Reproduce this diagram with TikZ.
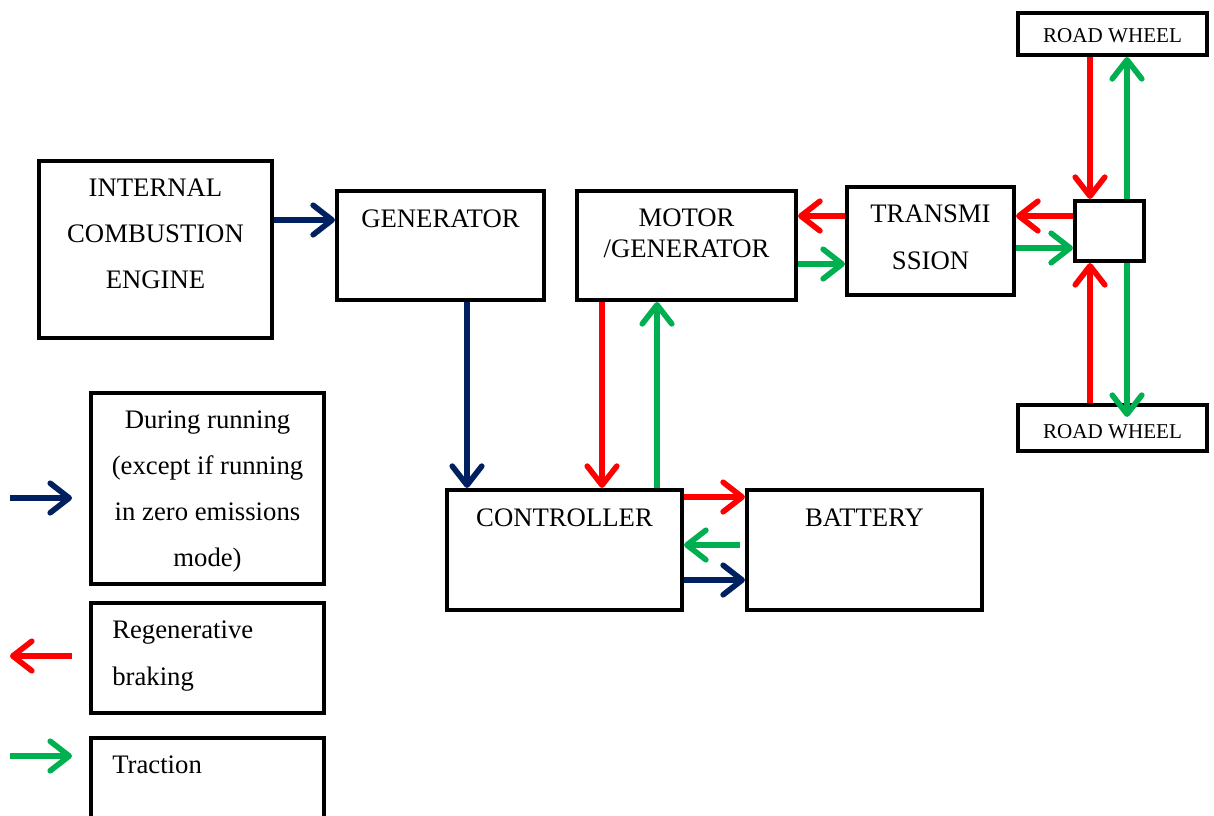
\documentclass[tikz,border=0pt]{standalone}
\usepackage{fontspec}
\setmainfont{Liberation Serif}
\usetikzlibrary{arrows.meta}

\definecolor{runblue}{RGB}{0,32,96}
\definecolor{regenred}{RGB}{255,0,0}
\definecolor{tractgreen}{RGB}{0,176,80}

\begin{document}
\begin{tikzpicture}[x=0.025cm, y=-0.025cm,
    box/.style={draw, line width=2.9pt, inner sep=0pt},
    boxtext/.style={font=\fontsize{19}{23}\selectfont, inner sep=0pt, anchor=base},
    wheeltext/.style={font=\fontsize{15}{18}\selectfont, inner sep=0pt, anchor=base},
    flow/.style={line width=4pt, -{Straight Barb[length=13.5pt, width=21pt, line cap=round, line join=round]}}]

    \useasboundingbox (0,0) rectangle (1214,815);

    % Draw blocks
    \node [box, minimum width=5.825cm, minimum height=4.425cm] (ice) at (155.5,249.5) {};
    \node [box, minimum width=5.175cm, minimum height=2.725cm] (gen) at (440.5,245.5) {};
    \node [box, minimum width=5.475cm, minimum height=2.725cm] (mg) at (686.5,245.5) {};
    \node [box, minimum width=4.175cm, minimum height=2.7cm] (trans) at (930.5,241) {};
    \node [box, minimum width=1.725cm, minimum height=1.5cm] (hub) at (1109.5,231) {};
    \node [box, minimum width=4.725cm, minimum height=1.05cm] (wheelA) at (1112.5,34) {};
    \node [box, minimum width=4.725cm, minimum height=1.15cm] (wheelB) at (1112.5,428) {};
    \node [box, minimum width=5.875cm, minimum height=3cm] (ctrl) at (564.5,550) {};
    \node [box, minimum width=5.875cm, minimum height=3cm] (batt) at (864.5,550) {};

    % Draw block texts
    \node [boxtext] (iceA) at (155.5,196) {INTERNAL};
    \node [boxtext] (iceB) at (155.5,242) {COMBUSTION};
    \node [boxtext] (iceC) at (155.5,288) {ENGINE};
    \node [boxtext] (genA) at (440.5,227) {GENERATOR};
    \node [boxtext] (mgA) at (686.5,226) {MOTOR};
    \node [boxtext] (mgB) at (686.5,257) {/GENERATOR};
    \node [boxtext] (transA) at (930.5,222) {TRANSMI};
    \node [boxtext] (transB) at (930.5,269) {SSION};
    \node [boxtext] (ctrlA) at (564.5,526) {CONTROLLER};
    \node [boxtext] (battA) at (864.5,526) {BATTERY};
    \node [wheeltext] (wheelAt) at (1112.5,42) {ROAD WHEEL};
    \node [wheeltext] (wheelBt) at (1112.5,438) {ROAD WHEEL};

    % Draw flows
    \draw [flow, runblue] (ice.east |- 0,220) -- (gen.west |- 0,220);
    \draw [flow, runblue] (gen.south -| 467,0) -- (ctrl.north -| 467,0);
    \draw [flow, regenred] (mg.south -| 602,0) -- (ctrl.north -| 602,0);
    \draw [flow, tractgreen] (ctrl.north -| 657,0) -- (mg.south -| 657,0);
    \draw [flow, regenred] (ctrl.east |- 0,497) -- (batt.west |- 0,497);
    \draw [flow, tractgreen] ([xshift=-0.125cm]batt.west |- 0,545) -- (ctrl.east |- 0,545);
    \draw [flow, runblue] (ctrl.east |- 0,580) -- (batt.west |- 0,580);
    \draw [flow, regenred] (trans.west |- 0,216) -- (mg.east |- 0,216);
    \draw [flow, tractgreen] (mg.east |- 0,264) -- (trans.west |- 0,264);
    \draw [flow, regenred] (hub.west |- 0,216) -- (trans.east |- 0,216);
    \draw [flow, tractgreen] (trans.east |- 0,248) -- (hub.west |- 0,248);
    \draw [flow, regenred] (wheelA.south -| 1090,0) -- (hub.north -| 1090,0);
    \draw [flow, tractgreen] (hub.north -| 1127,0) -- (wheelA.south -| 1127,0);
    \draw [flow, regenred] (wheelB.north -| 1090,0) -- (hub.south -| 1090,0);
    \draw [flow, tractgreen] (hub.south -| 1127,0) -- ([yshift=-0.35cm]wheelB.north -| 1127,0);

    % Draw legend
    \node [box, minimum width=5.825cm, minimum height=4.775cm] (legRun) at (207.5,488.5) {};
    \node [box, minimum width=5.825cm, minimum height=2.75cm] (legRegen) at (207.5,658) {};
    \node [box, minimum width=5.825cm, minimum height=2.35cm] (legTract) at (207.5,785) {};

    \node [boxtext] (runA) at (207.5,428) {During running};
    \node [boxtext] (runB) at (207.5,474) {(except if running};
    \node [boxtext] (runC) at (207.5,520) {in zero emissions};
    \node [boxtext] (runD) at (207.5,566) {mode)};
    \node [boxtext, anchor=base west] (regenA) at (112,638) {Regenerative};
    \node [boxtext, anchor=base west] (regenB) at (112,685) {braking};
    \node [boxtext, anchor=base west] (tractA) at (112,773) {Traction};

    \coordinate (runS) at (10,498);
    \coordinate (runE) at (72,498);
    \coordinate (regenS) at (72,656);
    \coordinate (regenE) at (10,656);
    \coordinate (tractS) at (10,756);
    \coordinate (tractE) at (72,756);
    \draw [flow, runblue] (runS) -- (runE);
    \draw [flow, regenred] (regenS) -- (regenE);
    \draw [flow, tractgreen] (tractS) -- (tractE);

\end{tikzpicture}
\end{document}
